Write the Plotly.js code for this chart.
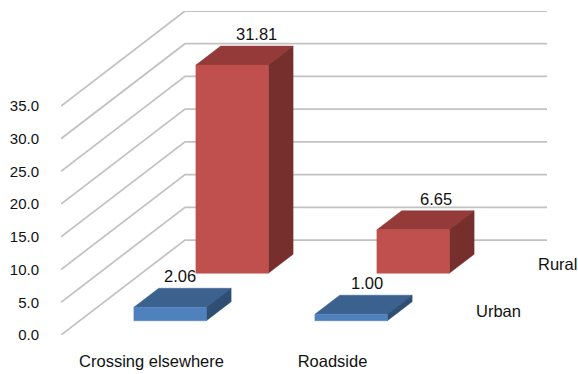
<!DOCTYPE html>
<html>
<head>
<meta charset="utf-8">
<script src="https://cdn.plot.ly/plotly-3.0.1.min.js"></script>
<style>html,body{margin:0;padding:0;background:#fff}#chart{width:578px;height:374px}</style>
</head>
<body>
<div id="chart"></div>
<script>
// Values
const categories = ['Crossing elsewhere', 'Roadside'];
const seriesNames = ['Urban', 'Rural'];
const urbanValues = [2.06, 1.00];
const ruralValues = [31.81, 6.65];
const valueTicks = [0, 5, 10, 15, 20, 25, 30, 35];

// Oblique projection of the 3D box: one series slot of depth moves a point
// right along the category axis and up along the value axis.
const DEPTH_X = 0.3425;   // category units per series slot
const DEPTH_Y = 7.26;     // value units per series slot
const SERIES_COUNT = seriesNames.length;
const X_MAX = categories.length + DEPTH_X * SERIES_COUNT;
const Y_MAX = 49.52;
const BAR_FRACTION = 0.4;

const px = (cat, depth) => cat + depth * DEPTH_X;
const py = (value, depth) => value + depth * DEPTH_Y;

const palette = {
  Urban: {front: '#4F81BD', top: '#3B618F', side: '#2F4E73'},
  Rural: {front: '#C0504D', top: '#943A38', side: '#772F2D'}
};

const traces = [];

// Walls: each gridline runs up the side wall, then across the back wall.
valueTicks.forEach(v => {
  traces.push({
    type: 'scatter', mode: 'lines', hoverinfo: 'skip', showlegend: false,
    x: [px(0, 0), px(0, SERIES_COUNT), px(categories.length, SERIES_COUNT)],
    y: [py(v, 0), py(v, SERIES_COUNT), py(v, SERIES_COUNT)],
    line: {color: '#C2C2C2', width: 1.75}
  });
});

function face(xs, ys, color) {
  traces.push({
    type: 'scatter', mode: 'lines', fill: 'toself', fillcolor: color,
    hoverinfo: 'skip', showlegend: false, x: xs, y: ys,
    line: {color: color, width: 0.5}
  });
}

function box(catIndex, seriesIndex, value, colors) {
  const margin = (1 - BAR_FRACTION) / 2;
  const x0 = catIndex + margin, x1 = x0 + BAR_FRACTION;
  const d0 = seriesIndex + margin, d1 = d0 + BAR_FRACTION;
  face([px(x0, d0), px(x1, d0), px(x1, d1), px(x0, d1), px(x0, d0)],
       [py(value, d0), py(value, d0), py(value, d1), py(value, d1), py(value, d0)], colors.top);
  face([px(x1, d0), px(x1, d1), px(x1, d1), px(x1, d0), px(x1, d0)],
       [py(0, d0), py(0, d1), py(value, d1), py(value, d0), py(0, d0)], colors.side);
  face([px(x0, d0), px(x1, d0), px(x1, d0), px(x0, d0), px(x0, d0)],
       [py(0, d0), py(0, d0), py(value, d0), py(value, d0), py(0, d0)], colors.front);
}

// Painted back to front
categories.forEach((c, i) => box(i, 1, ruralValues[i], palette.Rural));
categories.forEach((c, i) => box(i, 0, urbanValues[i], palette.Urban));

const textFont = {family: 'Liberation Sans, Arial, sans-serif', size: 16.5, color: '#111111'};
const tickFont = {family: 'Liberation Sans, Arial, sans-serif', size: 15, color: '#111111'};

// Value labels sit above the back edge of each bar's top face.
const annotations = [];
function valueLabel(catIndex, seriesIndex, value, xshift) {
  annotations.push({
    xref: 'x', yref: 'y', showarrow: false, font: textFont,
    x: px(catIndex + 0.5, seriesIndex + 0.7), y: py(value, seriesIndex + 0.7),
    text: value.toFixed(2), xanchor: 'center', yanchor: 'middle', yshift: 12, xshift: xshift
  });
}
valueLabel(0, 1, ruralValues[0], 0);
valueLabel(1, 1, ruralValues[1], -2);
valueLabel(0, 0, urbanValues[0], -15);
valueLabel(1, 0, urbanValues[1], -9);

// Series names along the depth axis, past the right floor edge.
seriesNames.forEach((name, s) => {
  annotations.push({
    xref: 'x', yref: 'y', showarrow: false, font: textFont,
    x: px(categories.length, s + 0.5), y: py(0, s + 0.5),
    text: name, xanchor: 'left', yanchor: 'middle', xshift: 20
  });
});

const layout = {
  width: 578, height: 374,
  margin: {l: 61, r: 31, t: 11, b: 39, pad: 0},
  paper_bgcolor: '#ffffff', plot_bgcolor: 'rgba(0,0,0,0)',
  showlegend: false, hovermode: false,
  xaxis: {
    range: [0, X_MAX], showgrid: false, zeroline: false, showline: false,
    tickmode: 'array', tickvals: categories.map((c, i) => i + 0.5), ticktext: categories,
    ticks: 'outside', ticklen: 11, tickcolor: 'rgba(0,0,0,0)', tickangle: 0,
    tickfont: textFont, fixedrange: true
  },
  yaxis: {
    range: [0, Y_MAX], showgrid: false, zeroline: false, showline: false,
    tickmode: 'array', tickvals: valueTicks, ticktext: valueTicks.map(v => v.toFixed(1)),
    ticks: 'outside', ticklen: 18, tickcolor: 'rgba(0,0,0,0)',
    tickfont: tickFont, fixedrange: true
  },
  annotations: annotations
};

Plotly.newPlot('chart', traces, layout, {displayModeBar: false, staticPlot: true});
</script>
</body>
</html>
